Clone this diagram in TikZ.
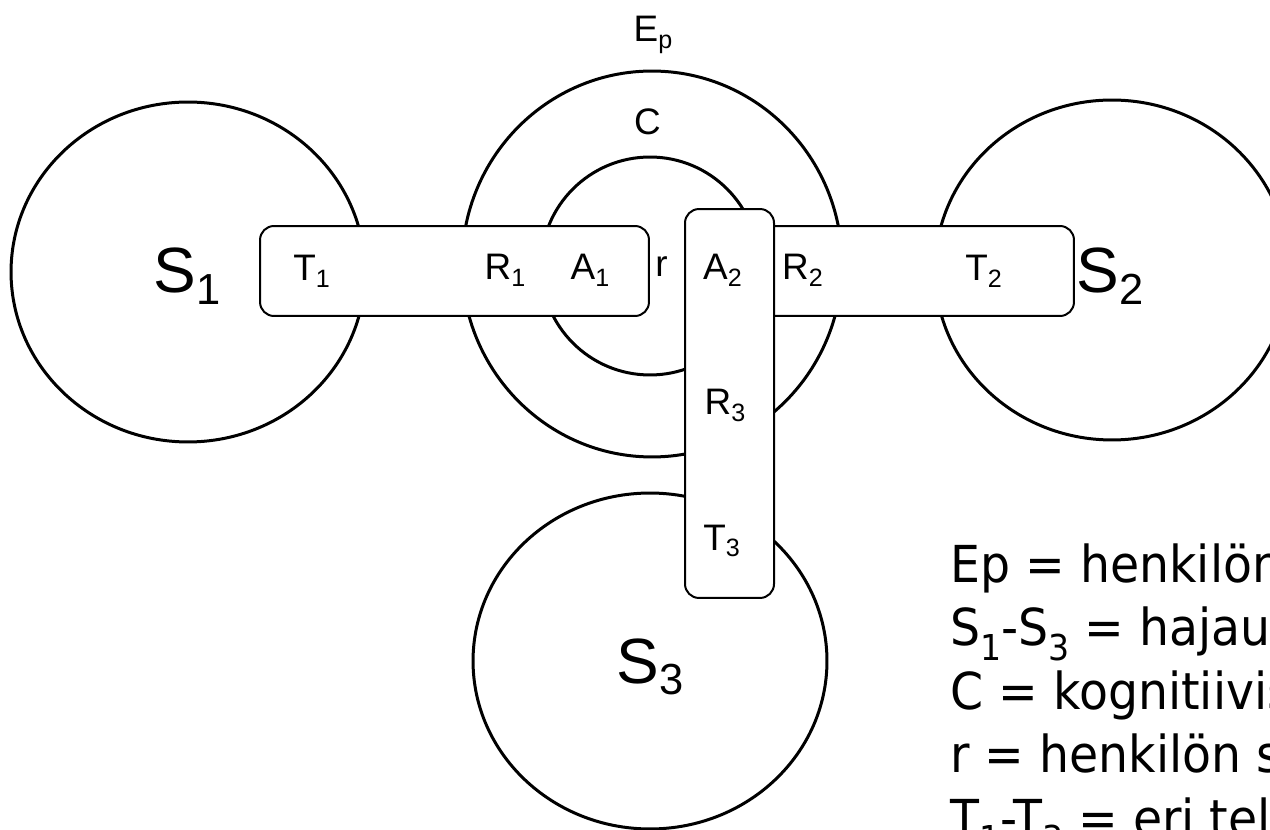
\documentclass[tikz,border=0pt]{standalone}
\usepackage{fontspec}
\setmainfont{Liberation Sans}
\newfontfamily\legendfont[FakeStretch=0.93]{DejaVu Sans}
\usetikzlibrary{shapes.geometric}
\newcommand{\sub}[1]{\raisebox{-0.18em}{\scalebox{0.68}{#1}}}
\newcommand{\legsub}[1]{\raisebox{-0.3em}{\scalebox{0.7}{#1}}}

\begin{document}
\begin{tikzpicture}[x=0.02cm, y=-0.02cm,
	sphere/.style={draw, ellipse, line width=0.06cm, inner sep=0pt},
	slot/.style={draw, fill=white, rounded corners=0.28cm, line width=0.04cm, inner sep=0pt},
	lbl/.style={anchor=base, inner sep=0pt, font=\fontsize{21}{25}\selectfont},
	biglbl/.style={anchor=base, inner sep=0pt, font=\fontsize{36.4}{40}\selectfont},
	legend/.style={anchor=base west, inner sep=0pt, font=\legendfont\fontsize{29}{34}\selectfont}]
	\clip (0,0) rectangle (1270,830);
	% spheres
	\node[sphere, minimum width=7.08cm, minimum height=6.8cm] (S1) at (188,272) {};
	\node[sphere, minimum width=7.08cm, minimum height=6.8cm] (S2) at (1112,270) {};
	\node[sphere, minimum width=7.08cm, minimum height=6.72cm] (S3) at (650,661) {};
	\node[sphere, minimum width=7.6cm, minimum height=7.72cm] (Ep) at (652,264) {};
	\node[sphere, minimum width=4.36cm, minimum height=4.36cm] (C) at (650,266) {};
	% channels
	\node[slot, minimum width=7.78cm, minimum height=1.8cm] (left) at (454.5,271) {};
	\node[slot, minimum width=7.78cm, minimum height=1.8cm] (right) at (879.5,271) {};
	\node[slot, minimum width=1.78cm, minimum height=7.78cm] (down) at (729.5,403.5) {};
	% labels
	\node[biglbl] (s1lbl) at (187,293) {S\sub{1}};
	\node[biglbl] (s2lbl) at (1110,293) {S\sub{2}};
	\node[biglbl] (s3lbl) at (650,683) {S\sub{3}};
	\node[lbl] (eplbl) at (653,42) {E\sub{p}};
	\node[lbl] (clbl) at (647.5,135) {C};
	\node[lbl] (rlbl) at (661.5,277) {r};
	\node[lbl] (t1) at (311.5,281) {T\sub{1}};
	\node[lbl] (r1) at (505,280) {R\sub{1}};
	\node[lbl] (a1) at (590,280) {A\sub{1}};
	\node[lbl] (a2) at (722.5,280) {A\sub{2}};
	\node[lbl] (r2) at (802.5,280) {R\sub{2}};
	\node[lbl] (t2) at (983.5,281) {T\sub{2}};
	\node[lbl] (r3) at (725,415) {R\sub{3}};
	\node[lbl] (t3) at (721.5,550) {T\sub{3}};
	% legend
	\node[legend] (leg1) at (950,582) {Ep = henkilön};
	\node[legend] (leg2) at (950,645.5) {S\legsub{1}-S\legsub{3} = hajaut};
	\node[legend] (leg3) at (950,709) {C = kognitiivis};
	\node[legend] (leg4) at (950,772.5) {r = henkilön s};
	\node[legend] (leg5) at (950,836) {T\legsub{1}-T\legsub{3} = eri tel};
\end{tikzpicture}
\end{document}
